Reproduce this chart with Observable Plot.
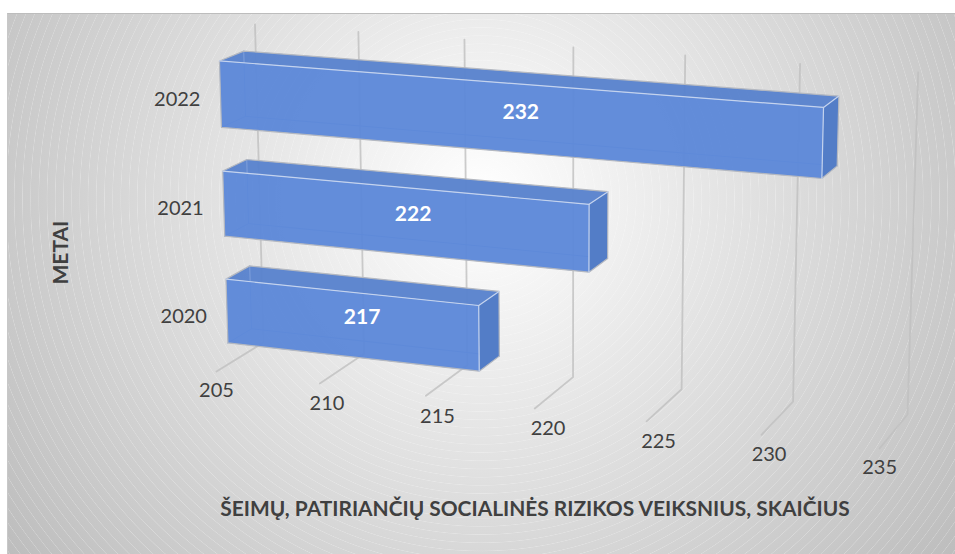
<!DOCTYPE html>
<html><head><meta charset="utf-8">
<style>
html,body{margin:0;padding:0;background:#fff;overflow:hidden}
#wrap{position:relative;width:955px;height:554px}
#bg{position:absolute;left:7px;top:13px;right:0;bottom:0;border-top:1.5px solid #bdbdbd;border-left:1.5px solid #c8c8c8;box-sizing:border-box;
background:
repeating-radial-gradient(circle at 473px 185px,rgba(255,255,255,0) 0,rgba(255,255,255,0) 7px,rgba(255,255,255,.28) 7.5px,rgba(255,255,255,0) 8.2px),
radial-gradient(circle at 473px 185px,#ffffff 0,#f2f2f2 120px,#e2e2e2 260px,#d2d2d2 400px,#c6c6c6 510px,#bcbcbc 600px)}
#plot{position:absolute;left:0;top:0}
svg{background:transparent!important}
</style>
<script src="https://cdn.jsdelivr.net/npm/d3@7"></script>
<script src="https://cdn.jsdelivr.net/npm/@observablehq/plot@0.6"></script>
</head><body><div id="wrap"><div id="bg"></div><div id="plot"></div></div>
<script>
const years = ["2020", "2021", "2022"];
const values = [217, 222, 232];
const ticks = [205, 210, 215, 220, 225, 230, 235];
const xTitle = "ŠEIMŲ, PATIRIANČIŲ SOCIALINĖS RIZIKOS VEIKSNIUS, SKAIČIUS";
const yTitle = "METAI";

// perspective of the 3-D box: u = value share, h = height share, d = depth share
const U = v => (v - 205) / 30;
function project(v, h, d) {
  const u = U(v), w = 1 - .077*u - .02865*h + .033*d;
  return {x: (216 + 595.4*u - 16.1*h + 55.7*d)/w, y: (371 + 42.5*u - 329.2*h - 17.7*d)/w};
}
const barH = 0.2, dF = 0.25, dB = 0.75;
const slot = i => (i + .5) / years.length;
const poly = (id, pts) => pts.map(([v,h,d]) => ({id, ...project(v,h,d)}));
const faces = {top:[], side:[], front:[], hidden:[], light:[], edge:[]};
years.forEach((yr,i) => {
  const v = values[i], a = slot(i)-barH/2, b = slot(i)+barH/2;
  faces.top.push(...poly(yr,[[205,b,dF],[v,b,dF],[v,b,dB],[205,b,dB]]));
  faces.side.push(...poly(yr,[[v,a,dF],[v,b,dF],[v,b,dB],[v,a,dB]]));
  faces.front.push(...poly(yr,[[205,a,dF],[v,a,dF],[v,b,dF],[205,b,dF]]));
  faces.hidden.push(...poly(yr+"h",[[205,b,dB],[205,a,dB],[v,a,dB]]), ...poly(yr+"g",[[205,a,dF],[205,a,dB]]));
  faces.light.push(...poly(yr+"l",[[205,b,dF],[v,b,dF],[v,a,dF]]), ...poly(yr+"m",[[v,b,dF],[v,b,dB]]));
  faces.edge.push(...poly(yr+"e",[[205,a,dF],[205,b,dF],[205,b,dB],[v,b,dB],[v,a,dB],[v,a,dF],[205,a,dF]]));
});
const grid = ticks.flatMap(t => poly(t,[[t,1,1],[t,0,1],[t,0,0]]));
// tick labels run evenly along the front of the floor
const p0 = project(205,0,0), p1 = project(235,0,0);
const tickLabels = ticks.map(t => ({t, x: p0.x + U(t)*(p1.x-p0.x), y: p0.y + U(t)*(p1.y-p0.y)}));
const yearLabels = years.map((yr,i) => ({yr, ...project(205,slot(i),dF)}));
const valueLabels = values.map((v,i) => ({v, ...project((205+v)/2,slot(i),.5)}));

const faceMark = (rows, fill, o) => Plot.line(rows,{x:"x",y:"y",z:"id",fill,fillOpacity:o,stroke:"none",curve:"linear-closed"});
const font = "Lato, Carlito, sans-serif";
const chart = Plot.plot({
  width:955, height:554, margin:0,
  x:{domain:[0,955],range:[0,955],axis:null},
  y:{domain:[0,554],range:[0,554],axis:null},
  style:{fontFamily:font,background:"transparent"},
  marks:[
    Plot.line(grid,{x:"x",y:"y",z:"id",stroke:"#bfbfbf",strokeWidth:1.8,strokeOpacity:.8}),
    Plot.text(tickLabels,{x:"x",y:"y",text:"t",dy:19,fontSize:20,fill:"#404040"}),
    faceMark(faces.top,"#5a83cd",.97),
    Plot.line(faces.hidden,{x:"x",y:"y",z:"id",stroke:"#7fa0dc",strokeWidth:1}),
    faceMark(faces.front,"#5d88d8",.96),
    faceMark(faces.side,"#537dc7",1),
    Plot.line(faces.edge,{x:"x",y:"y",z:"id",stroke:"#b4b8c0",strokeWidth:1.2}),
    Plot.line(faces.light,{x:"x",y:"y",z:"id",stroke:"#c4d3ee",strokeWidth:1.2}),
    Plot.text(yearLabels,{x:"x",y:"y",text:"yr",textAnchor:"end",dx:-20,dy:5,fontSize:20,fill:"#404040"}),
    Plot.text(valueLabels,{x:"x",y:"y",text:"v",fontSize:21,fontWeight:700,fill:"#fff"}),
    Plot.text([xTitle],{frameAnchor:"bottom",dx:57,dy:-39,fontSize:20.9,fontWeight:700,fill:"#404040"}),
    Plot.text([yTitle],{frameAnchor:"left",rotate:-90,dx:61,dy:7,fontSize:21,fontWeight:700,fill:"#404040"})
  ]
});
document.getElementById("plot").append(chart);
</script></body></html>
